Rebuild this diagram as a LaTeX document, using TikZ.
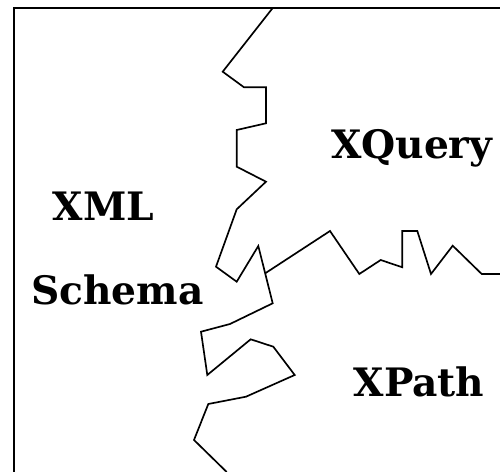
\documentclass[tikz,border=0pt]{standalone}
\usepackage{fontspec}
\setmainfont{DejaVu Serif}
\usepackage{tikz}
\usetikzlibrary{positioning}

\tikzset{
  area/.style={font=\fontsize{22.3}{26}\selectfont\bfseries, anchor=base, inner sep=0pt},
  border/.style={black, line width=1.2pt},
  crack/.style={black, line width=0.95pt, line join=miter}
}

\begin{document}
\begin{tikzpicture}[x=0.02cm, y=-0.02cm]
    \useasboundingbox (0, 0) rectangle (500, 472);

    % frame, only top and left are visible
    \draw[border] (500, 8) -- (14, 8) -- (14, 472);

    % the long crack from top to bottom
    \draw[crack] (272.7, 8) -- (222.7, 71.7) -- (244, 87.3) -- (266, 87.3)
      -- (266, 123.3) -- (236.7, 130) -- (236.7, 166.7) -- (266, 181.7)
      -- (236.7, 209.3) -- (216, 266.7) -- (236.7, 281.7) -- (258.3, 246)
      -- (272.7, 303.3) -- (230, 324) -- (201, 331.7) -- (207.3, 375)
      -- (250.7, 339.3) -- (273.3, 346.7) -- (294.7, 375) -- (246, 396.7)
      -- (208.3, 404) -- (194, 440) -- (226.7, 472);

    % the branch going right
    \draw[crack] (265.2, 273.3) -- (330, 231) -- (359.3, 274) -- (380.7, 260)
      -- (402.3, 267.3) -- (402.3, 231) -- (417.3, 231) -- (431, 274)
      -- (452.7, 245.7) -- (481.7, 274) -- (500, 274);

    \node[area] (xquery) at (411.7, 158.3) {XQuery};
    \node[area] (xml) at (103.3, 221) {XML};
    \node[area] (schema) at (117.5, 305) {Schema};
    \node[area] (xpath) at (419, 396.7) {XPath};
\end{tikzpicture}
\end{document}
